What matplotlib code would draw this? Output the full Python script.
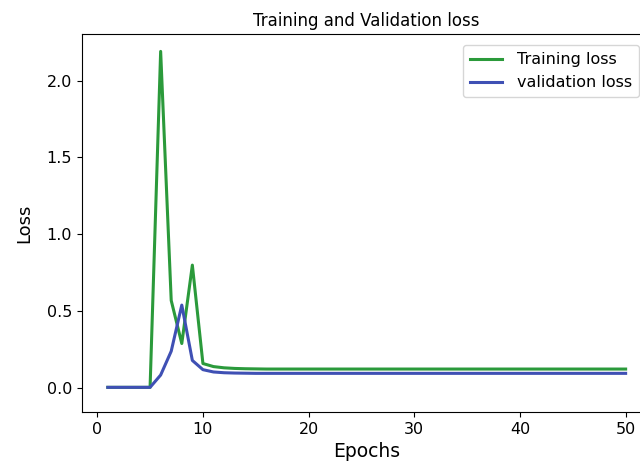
import matplotlib
matplotlib.use("Agg")
import matplotlib.pyplot as plt

epochs = list(range(1, 51))
train_loss = [0.005, 0.005, 0.005, 0.005, 0.005, 2.19, 0.57, 0.29, 0.80, 0.16,
              0.14, 0.132, 0.128, 0.126, 0.125] + [0.124] * 35
val_loss = [0.005, 0.005, 0.005, 0.005, 0.005, 0.085, 0.24, 0.54, 0.18, 0.12,
            0.105, 0.10, 0.098, 0.097] + [0.096] * 36

fig = plt.figure(figsize=(6.4, 4.66), dpi=100)
ax = fig.add_axes([0.128, 0.116, 0.89, 0.81])
ax.plot(epochs, train_loss, color='#2b9a3b', lw=2.2, label='Training loss')
ax.plot(epochs, val_loss, color='#3f50b4', lw=2.2, label='validation loss')
ax.set_ylim(-0.155, 2.30)
ax.set_xlim(-1.45, 52.45)
ax.set_title('Training and Validation loss', fontsize=12, pad=6)
ax.set_xlabel('Epochs', fontsize=13.5)
ax.set_ylabel('Loss', fontsize=13, labelpad=10)
ax.tick_params(labelsize=11.5)
ax.legend(loc='upper right', fontsize=11.5, bbox_to_anchor=(0.978, 0.972),
          borderaxespad=0, handletextpad=0.9, borderpad=0.45)
fig.savefig('out.png', dpi=100)
